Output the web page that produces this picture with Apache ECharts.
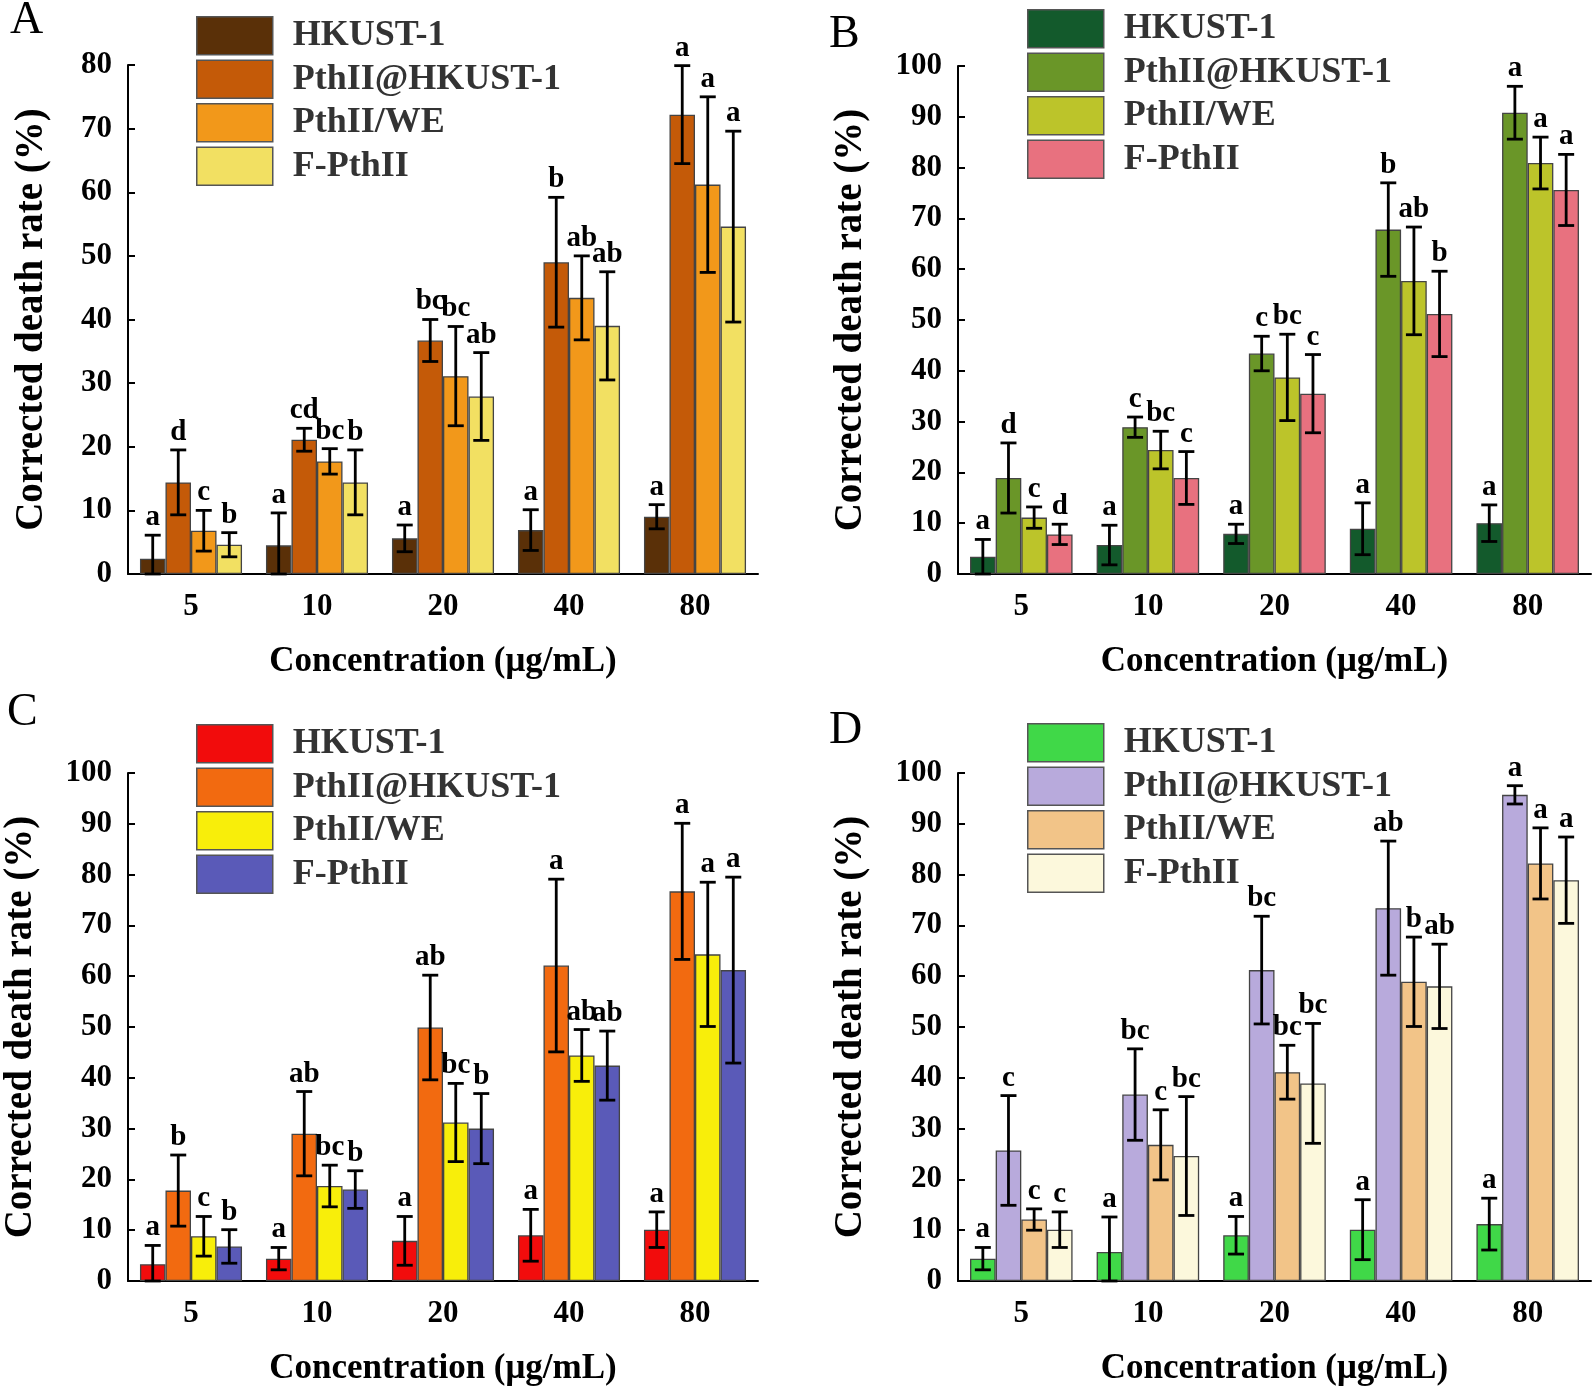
<!DOCTYPE html>
<html>
<head>
<meta charset="utf-8">
<script src="https://cdn.jsdelivr.net/npm/echarts@6/dist/echarts.min.js"></script>
<style>
html,body{margin:0;padding:0;background:#fff;}
#chart{width:1594px;height:1391px;}
</style>
</head>
<body>
<div id="chart"></div>
<script>
// ---------------- DATA ----------------
const categories = ['5', '10', '20', '40', '80'];
const seriesNames = ['HKUST-1', 'PthII@HKUST-1', 'PthII/WE', 'F-PthII'];

// Panel A (mean, SD, significance letters), order = seriesNames
const aMean = [
  [2.4, 4.5, 5.6, 6.9, 9.0],
  [14.4, 21.1, 36.7, 49.0, 72.2],
  [6.8, 17.7, 31.1, 43.4, 61.2],
  [4.6, 14.4, 27.9, 39.0, 54.6]
];
const aSd = [
  [3.7, 5.1, 2.1, 3.2, 1.9],
  [5.1, 1.8, 3.3, 10.2, 7.7],
  [3.2, 2.0, 7.8, 6.6, 13.8],
  [1.9, 5.1, 6.9, 8.5, 15.0]
];
const aLetters = [
  ['a', 'a', 'a', 'a', 'a'],
  ['d', 'cd', 'bc', 'b', 'a'],
  ['c', 'bc', 'bc', 'ab', 'a'],
  ['b', 'b', 'ab', 'ab', 'a']
];

// Panel B
const bMean = [
  [3.4, 5.7, 7.9, 8.9, 10.0],
  [18.9, 28.9, 43.4, 67.8, 90.8],
  [11.1, 24.4, 38.7, 57.7, 80.9],
  [7.8, 18.9, 35.5, 51.2, 75.6]
];
const bSd = [
  [3.4, 3.9, 1.9, 5.1, 3.6],
  [6.9, 2.0, 3.4, 9.2, 5.2],
  [2.1, 3.7, 8.5, 10.6, 5.1],
  [2.0, 5.2, 7.7, 8.4, 7.0]
];
const bLetters = [
  ['a', 'a', 'a', 'a', 'a'],
  ['d', 'c', 'c', 'b', 'a'],
  ['c', 'bc', 'bc', 'ab', 'a'],
  ['d', 'c', 'c', 'b', 'a']
];

// Panel C
const cMean = [
  [3.3, 4.4, 7.9, 9.0, 10.1],
  [17.8, 29.0, 49.9, 62.1, 76.7],
  [8.8, 18.7, 31.2, 44.4, 64.3],
  [6.8, 18.0, 30.0, 42.4, 61.2]
];
const cSd = [
  [3.7, 2.2, 4.8, 5.1, 3.5],
  [7.0, 8.3, 10.3, 17.0, 13.4],
  [3.9, 4.1, 7.7, 5.1, 14.2],
  [3.3, 3.7, 6.9, 6.8, 18.3]
];
const cLetters = [
  ['a', 'a', 'a', 'a', 'a'],
  ['b', 'ab', 'ab', 'a', 'a'],
  ['c', 'bc', 'bc', 'ab', 'a'],
  ['b', 'b', 'b', 'ab', 'a']
];

// Panel D
const dMean = [
  [4.4, 5.7, 9.0, 10.1, 11.2],
  [25.7, 36.7, 61.2, 73.4, 95.7],
  [12.1, 26.8, 41.1, 58.9, 82.2],
  [10.1, 24.6, 38.9, 58.0, 78.9]
];
const dSd = [
  [2.2, 6.9, 3.7, 5.9, 5.1],
  [10.8, 9.0, 10.6, 13.2, 1.8],
  [2.1, 6.9, 5.3, 8.8, 7.0],
  [3.5, 11.7, 11.8, 8.3, 8.5]
];
const dLetters = [
  ['a', 'a', 'a', 'a', 'a'],
  ['c', 'bc', 'bc', 'ab', 'a'],
  ['c', 'c', 'bc', 'b', 'a'],
  ['c', 'bc', 'bc', 'ab', 'a']
];

const yMax = [80, 100, 100, 100];
const panelLabels = ['A', 'B', 'C', 'D'];

// ---------------- STYLE / LAYOUT ----------------
const FONT = '"Liberation Serif","Times New Roman",serif';
const colors = [
  ['#5a3008', '#c45a08', '#f2981a', '#f2e062'],
  ['#135a2c', '#6a9628', '#bcc42a', '#e8717f'],
  ['#f20c0c', '#f26a10', '#f8ee0a', '#5a5ab8'],
  ['#40d848', '#b8aadc', '#f2c488', '#fcf8dc']
];
const grids = [
  {left: 128, top: 65, width: 630, height: 509},
  {left: 958, top: 66, width: 633, height: 508},
  {left: 128, top: 773, width: 630, height: 508},
  {left: 958, top: 773, width: 633, height: 508}
];
const legendPos = [
  {left: 196, top: 16},
  {left: 1027, top: 9},
  {left: 196, top: 724},
  {left: 1027, top: 723}
];
const yNameGap = [77, 88, 88, 88];
const panelLetterPos = [
  {x: 27, y: 20}, {x: 846, y: 34}, {x: 24, y: 712}, {x: 846, y: 730}
];
const CAT_GAP = 0.19;

const means = [aMean, bMean, cMean, dMean];
const sds = [aSd, bSd, cSd, dSd];
const letters = [aLetters, bLetters, cLetters, dLetters];

const option = {
  animation: false,
  backgroundColor: '#fff',
  grid: grids,
  xAxis: [],
  yAxis: [],
  legend: [],
  series: [],
  graphic: []
};

for (let p = 0; p < 4; p++) {
  option.xAxis.push({
    type: 'category',
    gridIndex: p,
    data: categories,
    boundaryGap: true,
    axisLine: {show: true, lineStyle: {color: '#000', width: 2}},
    axisTick: {show: false},
    axisLabel: {margin: 17, color: '#000', fontFamily: FONT, fontWeight: 'bold', fontSize: 31},
    name: 'Concentration (μg/mL)',
    nameLocation: 'middle',
    nameGap: 70,
    nameTextStyle: {color: '#000', fontFamily: FONT, fontWeight: 'bold', fontSize: 35}
  });
  option.yAxis.push({
    type: 'value',
    gridIndex: p,
    min: 0,
    max: yMax[p],
    interval: 10,
    splitLine: {show: false},
    axisLine: {show: true, lineStyle: {color: '#000', width: 2}},
    axisTick: {show: true, inside: true, length: 7, lineStyle: {color: '#000', width: 2}},
    axisLabel: {margin: 16, color: '#000', fontFamily: FONT, fontWeight: 'bold', fontSize: 31},
    name: 'Corrected death rate (%)',
    nameLocation: 'middle',
    nameGap: yNameGap[p],
    nameTextStyle: {color: '#000', fontFamily: FONT, fontWeight: 'bold', fontSize: 39}
  });

  const legendData = [];
  for (let s = 0; s < 4; s++) {
    const sname = panelLabels[p] + '|' + seriesNames[s];
    legendData.push(sname);
    option.series.push({
      type: 'bar',
      name: sname,
      xAxisIndex: p,
      yAxisIndex: p,
      data: means[p][s],
      barGap: '0%',
      barCategoryGap: (CAT_GAP * 100) + '%',
      itemStyle: {color: colors[p][s], borderColor: '#444', borderWidth: 1.3},
      z: 2
    });
    // error bars + letters
    const errData = means[p][s].map((m, i) => [i, m, Math.max(0, m - sds[p][s][i]), m + sds[p][s][i]]);
    const lettersArr = letters[p][s];
    const k = s;
    option.series.push({
      type: 'custom',
      name: sname + '_err',
      xAxisIndex: p,
      yAxisIndex: p,
      data: errData,
      encode: {x: 0, y: 3},
      z: 5,
      clip: false,
      silent: true,
      renderItem: function (params, api) {
        const xi = api.value(0);
        const lo = api.value(2);
        const hi = api.value(3);
        const band = api.size([1, 0])[0];
        const bw = band * (1 - CAT_GAP) / 4;
        const base = api.coord([xi, hi]);
        const cx = base[0] + (k - 1.5) * bw;
        const yHi = base[1];
        const yLo = api.coord([xi, lo])[1];
        const cap = 8;
        const ls = {stroke: '#000', lineWidth: 2.8};
        return {
          type: 'group',
          children: [
            {type: 'line', shape: {x1: cx, y1: yHi, x2: cx, y2: yLo}, style: ls},
            {type: 'line', shape: {x1: cx - cap, y1: yHi, x2: cx + cap, y2: yHi}, style: ls},
            {type: 'line', shape: {x1: cx - cap, y1: yLo, x2: cx + cap, y2: yLo}, style: ls},
            {type: 'text', style: {
              text: lettersArr[params.dataIndex],
              x: cx, y: yHi - 3,
              align: 'center', verticalAlign: 'bottom',
              fill: '#000',
              font: 'bold 29px ' + FONT
            }}
          ]
        };
      }
    });
  }
  option.legend.push({
    data: legendData,
    orient: 'vertical',
    left: legendPos[p].left,
    top: legendPos[p].top,
    padding: 0,
    itemWidth: 76,
    itemHeight: 38,
    itemGap: 4,
    selectedMode: false,
    icon: 'rect',
    itemStyle: {borderColor: '#555', borderWidth: 1.5},
    formatter: function (name) { return name.split('|')[1]; },
    textStyle: {color: '#333', fontFamily: FONT, fontWeight: 'bold', fontSize: 36, padding: [0, 0, 0, 15]}
  });
  option.graphic.push({
    type: 'text',
    left: panelLetterPos[p].x - 17,
    top: panelLetterPos[p].y - 22,
    style: {text: panelLabels[p], font: '46px ' + FONT, fill: '#000'}
  });
}

const chart = echarts.init(document.getElementById('chart'));
chart.setOption(option);
</script>
</body>
</html>
